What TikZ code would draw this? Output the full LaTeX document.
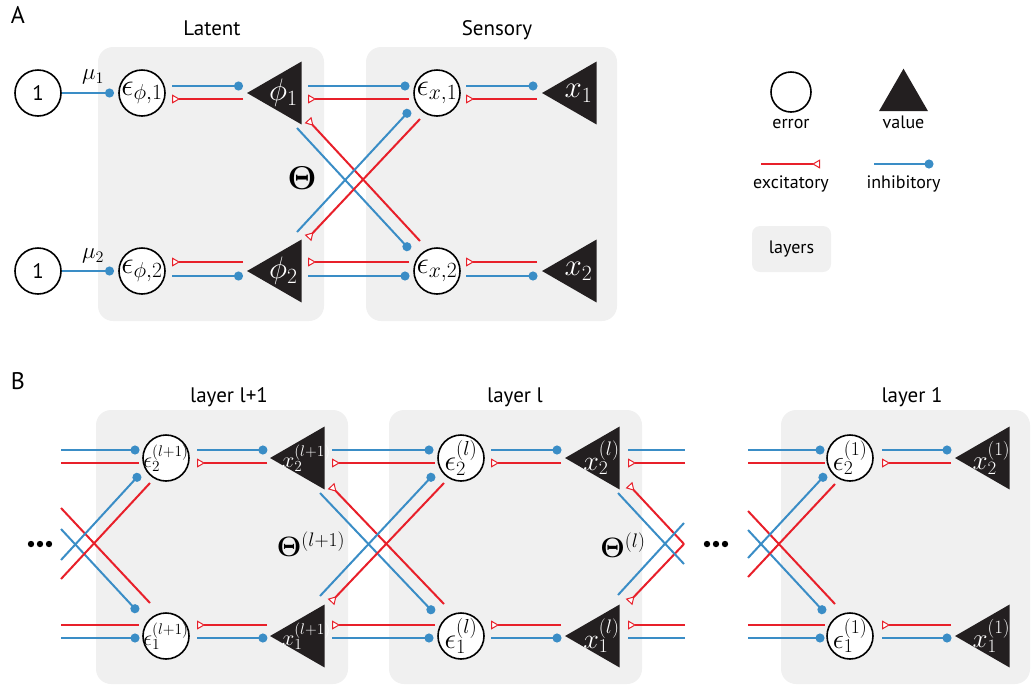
\RequirePackage{fix-cm}
\documentclass[tikz,border=0pt]{standalone}
\usepackage[no-math]{fontspec}
\setmainfont{PT Sans}
\usetikzlibrary{arrows.meta,calc,shapes.geometric}
\definecolor{inhblue}{RGB}{58,141,198}
\definecolor{excred}{RGB}{232,32,42}
\definecolor{boxgray}{RGB}{240,240,240}
\definecolor{valblack}{RGB}{35,31,32}
\newcommand\fsz[1]{\fontsize{#1}{#1}\selectfont}
\begin{document}
\begin{tikzpicture}[x=1pt,y=-1pt,
  layerbox/.style={fill=boxgray, rounded corners=15pt},
  err/.style={circle, draw=black, line width=1.6pt, fill=white, minimum size=46pt, inner sep=0pt},
  val/.style={regular polygon, regular polygon sides=3, regular polygon rotate=90, minimum size=72.7pt, fill=valblack, inner sep=0pt},
  inh/.style={draw=inhblue, line width=2pt, -{Circle[length=9pt]}},
  exc/.style={draw=excred, line width=2pt, -{Triangle[reversed, length=8pt, width=9pt, line width=1pt, fill=white]}},
  plainb/.style={draw=inhblue, line width=2pt},
  plainr/.style={draw=excred, line width=2pt},
  title/.style={font=\fsz{21}, anchor=base},
  panel/.style={font=\fsz{24}},
  legend/.style={font=\fsz{18}, anchor=base},
]
\useasboundingbox (0,0) rectangle (1033,689);

% ---------- boxes ----------
\fill[layerbox] (98,47) rectangle (324,321);
\fill[layerbox] (366,47) rectangle (617,321);
\fill[layerbox] (96,410) rectangle (348,684);
\fill[layerbox] (389,410) rectangle (642,684);
\fill[layerbox] (781,410) rectangle (1030,684);

% ---------- panel A ----------
\node[panel] (labA) at (18,15) {A};
\node[title] (tLat) at (212,35) {Latent};
\node[title] (tSen) at (497,35) {Sensory};

\node[err, label={[font=\fsz{21}]center:1}] (one1) at (38,93) {};
\node[err, label={[font=\fsz{21}]center:1}] (one2) at (38,271) {};
\node[font=\fsz{23}] (mu1) at (93,77) {$\mu_1$};
\node[font=\fsz{23}] (mu2) at (93,256) {$\mu_2$};

\node[err, label={[font=\fsz{31}]center:$\epsilon_{\phi,1}$}] (ephi1) at (142,93) {};
\node[err, label={[font=\fsz{31}]center:$\epsilon_{\phi,2}$}] (ephi2) at (142,271) {};
\node[val, label={[font=\fsz{31}, text=white]center:$\phi_1$}] (phi1) at (283.4,93) {};
\node[val, label={[font=\fsz{31}, text=white]center:$\phi_2$}] (phi2) at (283.4,271) {};
\node[err, label={[font=\fsz{31}]center:$\epsilon_{x,1}$}] (ex1) at (437,93) {};
\node[err, label={[font=\fsz{31}]center:$\epsilon_{x,2}$}] (ex2) at (437,271) {};
\node[val, label={[font=\fsz{31}, text=white]center:$x_1$}] (xx1) at (578.4,93) {};
\node[val, label={[font=\fsz{31}, text=white]center:$x_2$}] (xx2) at (578.4,271) {};
\node[font=\fsz{33}] (thA) at (302,178) {$\mathbf{\Theta}$};

\draw[inh] (one1.east) -- ($(ephi1)+(-28,0)$);
\draw[inh] (one2.east) -- ($(ephi2)+(-28,0)$);
% error phi -> phi
\draw[inh] ($(ephi1)+(30,-7)$) -- ($(phi1)+(-40.4,-7)$);
\draw[exc] ($(phi1)+(-40.4,6)$) -- ($(ephi1)+(30,6)$);
\draw[exc] ($(phi2)+(-40.4,-9)$) -- ($(ephi2)+(30,-9)$);
\draw[inh] ($(ephi2)+(30,5)$) -- ($(phi2)+(-40.4,5)$);
% phi -> error x
\draw[inh] ($(phi1)+(24.6,-7)$) -- ($(ex1)+(-27.5,-7)$);
\draw[exc] ($(ex1)+(-28,6)$) -- ($(phi1)+(24.6,6)$);
\draw[exc] ($(ex2)+(-28,-9)$) -- ($(phi2)+(24.6,-9)$);
\draw[inh] ($(phi2)+(24.6,5)$) -- ($(ex2)+(-27.5,5)$);
% crossings
\draw[inh] ($(phi1)+(13.6,35)$) -- ($(ex2)+(-27,-21)$);
\draw[exc] ($(ex2)+(-17,-30)$) -- ($(phi1)+(24.6,27)$);
\draw[inh] ($(phi2)+(13.6,-39)$) -- ($(ex1)+(-27,17)$);
\draw[exc] ($(ex1)+(-17,26)$) -- ($(phi2)+(24.6,-33)$);
% error x -> x
\draw[inh] ($(ex1)+(29,-7)$) -- ($(xx1)+(-40.9,-7)$);
\draw[exc] ($(xx1)+(-41.4,6)$) -- ($(ex1)+(29,6)$);
\draw[exc] ($(xx2)+(-41.4,-9)$) -- ($(ex2)+(29,-9)$);
\draw[inh] ($(ex2)+(29,5)$) -- ($(xx2)+(-40.9,5)$);

% ---------- legend ----------
\node[err, minimum size=40pt] (lerr) at (791,92) {};
\node[legend] (lerrt) at (791,128) {error};
\node[regular polygon, regular polygon sides=3, minimum size=56.6pt, fill=valblack, inner sep=0pt] (lval) at (903.5,97) {};
\node[legend] (lvalt) at (903.5,128) {value};
\coordinate (lgE1) at (761,164);
\coordinate (lgE2) at (820,164);
\coordinate (lgI1) at (874,164);
\coordinate (lgI2) at (933.5,164);
\draw[exc] (lgE1) -- (lgE2);
\draw[inh] (lgI1) -- (lgI2);
\node[legend] (lexc) at (791,188) {excitatory};
\node[legend] (linh) at (903.5,188) {inhibitory};
\node[fill=boxgray, rounded corners=8pt, minimum width=79pt, minimum height=46pt, font=\fsz{18}] (llay) at (791.5,249) {layers};

% ---------- panel B ----------
\node[panel] (labB) at (18,381) {B};
\node[title] (tL1) at (229,402) {layer l+1};
\node[title] (tL2) at (515,402) {layer l};
\node[title] (tL3) at (912,402) {layer 1};

\node[err, label={[font=\fsz{22}]center:$\epsilon_2^{(l+1)}$}] (e2a) at (166,458) {};
\node[err, label={[font=\fsz{22}]center:$\epsilon_1^{(l+1)}$}] (e1a) at (166,636) {};
\node[val, label={[font=\fsz{22}, text=white]center:$x_2^{(l+1)}$}] (x2a) at (306.4,458) {};
\node[val, label={[font=\fsz{22}, text=white]center:$x_1^{(l+1)}$}] (x1a) at (306.4,636) {};
\node[err, label={[font=\fsz{29}]center:$\epsilon_2^{(l)}$}] (e2b) at (461,458) {};
\node[err, label={[font=\fsz{29}]center:$\epsilon_1^{(l)}$}] (e1b) at (461,636) {};
\node[val, label={[font=\fsz{28}, text=white]center:$x_2^{(l)}$}] (x2b) at (601.4,458) {};
\node[val, label={[font=\fsz{28}, text=white]center:$x_1^{(l)}$}] (x1b) at (601.4,636) {};
\node[err, label={[font=\fsz{28}]center:$\epsilon_2^{(1)}$}] (e2c) at (850,458) {};
\node[err, label={[font=\fsz{28}]center:$\epsilon_1^{(1)}$}] (e1c) at (850,636) {};
\node[val, label={[font=\fsz{27}, text=white]center:$x_2^{(1)}$}] (x2c) at (991.4,458) {};
\node[val, label={[font=\fsz{27}, text=white]center:$x_1^{(1)}$}] (x1c) at (991.4,636) {};
\node[font=\fsz{28}] (thB1) at (311,544) {$\mathbf{\Theta}^{(l+1)}$};
\node[font=\fsz{28}] (thB2) at (623,545) {$\mathbf{\Theta}^{(l)}$};

\foreach \dx in {-9,0,9} {\fill (40+\dx,544) circle (3.2);}
\foreach \dx in {-9,0,9} {\fill (716+\dx,544) circle (3.2);}

% incoming to layer l+1
\coordinate (inTb) at (61,450);
\coordinate (inTr) at (61,463);
\coordinate (inBr) at (61,625);
\coordinate (inBb) at (61,638);
\coordinate (inX1) at (61,508);
\coordinate (inX2) at (61,529);
\coordinate (inX3) at (61,560);
\coordinate (inX4) at (61,579);
\draw[inh] (inTb) -- ($(e2a)+(-26.5,-8)$);
\draw[plainr] (inTr) -- ($(e2a)+(-27,5)$);
\draw[plainr] (inBr) -- ($(e1a)+(-27,-11)$);
\draw[inh] (inBb) -- ($(e1a)+(-26.5,2)$);
\draw[plainr] (inX1) -- ($(e1a)+(-16,-33)$);
\draw[inh] (inX2) -- ($(e1a)+(-28,-24)$);
\draw[inh] (inX3) -- ($(e2a)+(-26,16)$);
\draw[plainr] (inX4) -- ($(e2a)+(-16,25)$);

% layer l+1 internal
\draw[inh] ($(e2a)+(31,-8)$) -- ($(x2a)+(-39,-8)$);
\draw[exc] ($(x2a)+(-39.4,5)$) -- ($(e2a)+(31,5)$);
\draw[exc] ($(x1a)+(-39.4,-11)$) -- ($(e1a)+(31,-11)$);
\draw[inh] ($(e1a)+(31,2)$) -- ($(x1a)+(-39,2)$);

% layer l+1 -> layer l
\draw[inh] ($(x2a)+(25.6,-8)$) -- ($(e2b)+(-27.5,-8)$);
\draw[exc] ($(e2b)+(-26,5)$) -- ($(x2a)+(25.6,5)$);
\draw[exc] ($(e1b)+(-26,-11)$) -- ($(x1a)+(25.6,-11)$);
\draw[inh] ($(x1a)+(25.6,2)$) -- ($(e1b)+(-27.5,2)$);
\draw[inh] ($(x2a)+(13.6,35)$) -- ($(e1b)+(-27,-23)$);
\draw[exc] ($(e1b)+(-17,-32)$) -- ($(x2a)+(24.6,28)$);
\draw[inh] ($(x1a)+(13.6,-40)$) -- ($(e2b)+(-27,16)$);
\draw[exc] ($(e2b)+(-17,25)$) -- ($(x1a)+(24.6,-34)$);

% layer l internal
\draw[inh] ($(e2b)+(30,-8)$) -- ($(x2b)+(-39.9,-8)$);
\draw[exc] ($(x2b)+(-40.4,5)$) -- ($(e2b)+(30,5)$);
\draw[exc] ($(x1b)+(-40.4,-11)$) -- ($(e1b)+(30,-11)$);
\draw[inh] ($(e1b)+(30,2)$) -- ($(x1b)+(-39.9,2)$);

% layer l outgoing
\coordinate (outTb) at (685,450);
\coordinate (outTr) at (685,463);
\coordinate (outBr) at (685,625);
\coordinate (outBb) at (685,638);
\coordinate (outX) at (684,544);
\coordinate (outX2) at (684,564);
\coordinate (outX3) at (684,523);
\draw[plainb] ($(x2b)+(26.6,-8)$) -- (outTb);
\draw[exc] (outTr) -- ($(x2b)+(26.6,5)$);
\draw[exc] (outBr) -- ($(x1b)+(26.6,-11)$);
\draw[plainb] ($(x1b)+(26.6,2)$) -- (outBb);
\draw[exc] (outX) -- ($(x2b)+(27.6,27)$);
\draw[exc] (outX) -- ($(x1b)+(27.6,-34)$);
\draw[plainb] ($(x2b)+(16.6,35)$) -- (outX2);
\draw[plainb] ($(x1b)+(16.6,-41)$) -- (outX3);

% incoming to layer 1
\coordinate (in1Tb) at (748,450);
\coordinate (in1Tr) at (748,463);
\coordinate (in1Br) at (748,625);
\coordinate (in1Bb) at (748,638);
\coordinate (in1X1) at (748,511);
\coordinate (in1X2) at (748,530);
\coordinate (in1X3) at (748,558);
\coordinate (in1X4) at (748,577);
\draw[inh] (in1Tb) -- ($(e2c)+(-25.5,-8)$);
\draw[plainr] (in1Tr) -- ($(e2c)+(-25,5)$);
\draw[plainr] (in1Br) -- ($(e1c)+(-25,-11)$);
\draw[inh] (in1Bb) -- ($(e1c)+(-25.5,2)$);
\draw[plainr] (in1X1) -- ($(e1c)+(-15,-32)$);
\draw[inh] (in1X2) -- ($(e1c)+(-25,-23)$);
\draw[inh] (in1X3) -- ($(e2c)+(-24,16)$);
\draw[plainr] (in1X4) -- ($(e2c)+(-15,26)$);

% layer 1 internal
\draw[inh] ($(e2c)+(32,-8)$) -- ($(x2c)+(-39.9,-8)$);
\draw[exc] ($(x2c)+(-40.4,5)$) -- ($(e2c)+(32,5)$);
\draw[exc] ($(x1c)+(-40.4,-11)$) -- ($(e1c)+(32,-11)$);
\draw[inh] ($(e1c)+(32,2)$) -- ($(x1c)+(-39.9,2)$);
\end{tikzpicture}
\end{document}
